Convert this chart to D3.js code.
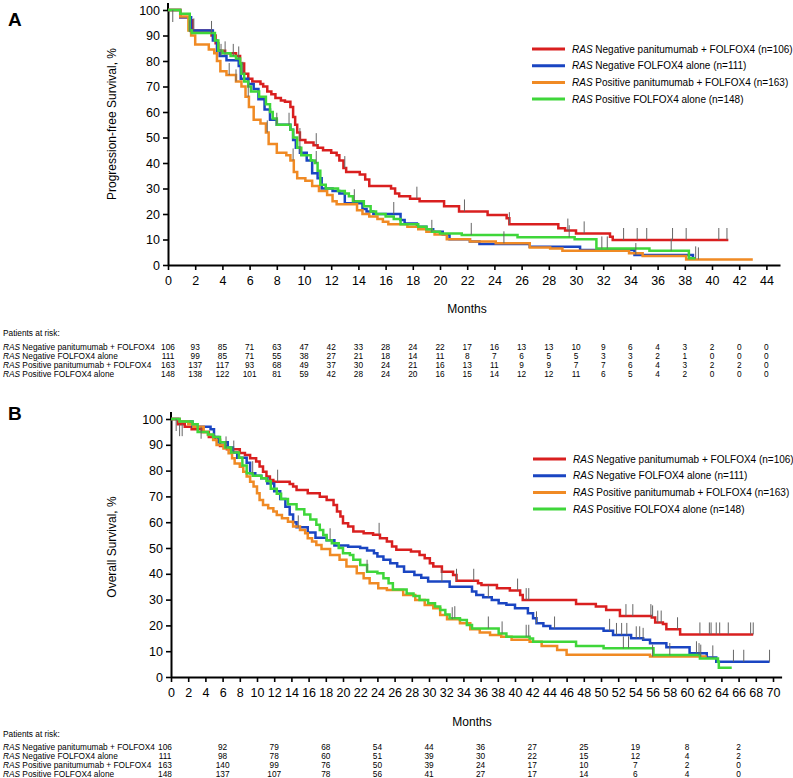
<!DOCTYPE html>
<html><head><meta charset="utf-8">
<script src="https://cdn.jsdelivr.net/npm/d3@7"></script>
<style>
body{margin:0;background:#fff}
svg{display:block}
text{font-family:Arial,"Liberation Sans",sans-serif;fill:#000}
</style>
</head><body>
<svg id="chart" width="793" height="778"></svg>
<script>
// ---------- DATA ----------
const seriesNames = [
  "Negative panitumumab + FOLFOX4 (n=106)",
  "Negative FOLFOX4 alone (n=111)",
  "Positive panitumumab + FOLFOX4 (n=163)",
  "Positive FOLFOX4 alone (n=148)"
];
const tableNames = [
  "Negative panitumumab + FOLFOX4",
  "Negative FOLFOX4 alone",
  "Positive panitumumab + FOLFOX4",
  "Positive FOLFOX4 alone"
];
const seriesColors = ["#d91f1f", "#1a45c2", "#f08a24", "#3fd63a"];

// Panel A: progression-free survival  [month, %] step points
const pfsNegPan = [[0,100],[0.9,97.2],[1.6,96],[1.8,92],[3.2,90],[3.5,87],[3.7,84],[4.2,83],[5.0,82],[5.3,79],[5.6,75],[5.9,73],[6.2,72],[6.8,71],[7.0,70],[7.3,68],[7.6,67],[7.9,65.5],[8.3,64.5],[8.6,64],[9.0,62],[9.2,58],[9.35,55],[9.5,52],[9.7,49],[10.1,48],[10.7,47],[11.0,46],[11.4,45],[12.0,44],[12.4,43],[12.6,41],[12.9,38],[13.1,36.5],[14.1,35.5],[14.5,33.5],[14.8,31],[16.4,30],[16.7,28],[17.0,27],[17.8,26],[18.5,25],[20.3,23],[21.4,21],[23.5,19.6],[24.9,18.3],[25.1,16],[28.7,14.4],[29.2,13.5],[30.0,12.4],[32.5,11.1],[32.7,9.8],[41.2,9.8]];
const pfsNegFol = [[0,100],[0.9,97.2],[1.7,92],[3.3,88],[3.6,84],[3.8,82],[4.3,80.3],[5.2,78],[5.35,73],[5.9,71],[6.3,69],[6.65,65],[7.1,61],[7.5,57],[8.0,55],[9.0,53],[9.2,49],[9.4,46],[9.7,44],[10.2,41],[10.6,36],[11.0,34],[11.3,30],[12.1,29],[12.6,28],[13.0,24.2],[14.3,22],[14.6,21],[15.1,20],[17.1,17.6],[17.4,16.3],[18.3,15],[19.0,14],[19.5,13],[20.2,12],[20.7,10.1],[22.2,9.2],[22.9,8.2],[26.6,7.2],[30.3,5.9],[34.3,3.9],[38.6,2.6],[38.8,2.6]];
const pfsPosPan = [[0,100],[0.9,97.5],[1.5,92],[1.7,90],[2.0,86.5],[3.0,84.5],[3.4,83],[3.6,80],[3.85,76],[4.3,74.5],[5.0,72],[5.4,70],[5.7,66],[5.95,62],[6.3,57],[6.8,55.5],[7.2,52],[7.4,47.5],[8.0,44],[8.7,43],[9.0,41],[9.25,36.5],[9.5,34],[10.1,33],[10.6,31],[11.1,29],[11.7,27.5],[12.1,25],[12.4,23.8],[13.9,21.5],[14.3,20],[14.8,19],[15.4,18],[15.8,17],[16.2,16],[17.6,15],[18.4,14],[19.0,13],[19.6,12],[20.5,10.1],[22.2,9.2],[24.1,8.5],[26.6,6.9],[28.1,6.5],[29.0,5.6],[33.9,4.6],[34.9,3.5],[38.1,2.2],[43.0,2.2]];
const pfsPosFol = [[0,100],[0.9,98.5],[1.6,92],[1.75,91],[3.45,88],[3.7,84],[4.0,83],[4.6,82],[5.0,81],[5.3,79],[5.4,75],[5.6,72],[5.9,70],[6.1,68],[6.7,66],[7.2,63],[7.5,60],[7.7,57.5],[8.0,55],[9.0,53],[9.2,50],[9.5,46],[9.8,43],[10.5,41],[10.8,40],[11.0,37],[11.2,31.5],[11.6,30],[12.5,29],[13.0,28],[13.3,27],[13.6,25],[14.4,23],[14.9,21],[15.3,20],[16.0,19],[16.6,18],[17.1,16],[18.4,15],[19.0,14],[19.4,13],[20.0,12.4],[21.6,11.8],[25.7,10.9],[29.9,10.1],[31.5,6.5],[35.4,5.6],[38.3,2.6],[38.8,2.6]];

const pfsCensNegPan = [0.35,1.6,9.7,10.9,13.0,18.3,21.8,25.1,29.4,30.6,33.5,34.5,35.2,37.1,38.1,40.5,41.1];
const pfsCensNegFol = [1.9,3.9,9.7,16.6,34.4,38.8];
const pfsCensPosPan = [4.5,5.0,5.9,7.3,9.2,24.7,39.0];
const pfsCensPosFol = [3.2,4.2,4.8,5.2,5.5,8.0,8.9,10.9,13.7,19.4,22.3,29.5,31.9,32.3,37.0];

// Panel B: overall survival
const osNegPan = [[0,100],[0.8,98],[1.6,97],[2.4,96],[3.6,95],[4.4,93],[5.1,92],[5.7,89.5],[6.5,88.3],[8.0,86.8],[8.6,86],[9.2,84.8],[9.9,83.5],[10.3,81.6],[10.7,79.6],[11.1,77.7],[11.5,76.4],[11.9,75.7],[13.8,74.8],[14.2,73.8],[14.6,72.5],[15.9,71.2],[17.3,69.9],[18.1,68.6],[18.9,66.7],[19.3,64.1],[19.7,62.2],[20.0,59.6],[20.6,58.3],[21.2,56.4],[22.4,55.7],[23.5,55.1],[24.3,53.8],[25.1,52.5],[25.7,50.6],[26.2,49.3],[27.9,48.6],[28.9,47.3],[29.5,46],[30.1,44.1],[30.5,42.8],[31.5,40.8],[32.8,39.5],[33.2,37.3],[35.7,36.3],[36.1,35.7],[37.9,34.4],[39.4,33.5],[40.6,31.8],[40.9,29.8],[47.1,28.3],[49.4,27.3],[50.6,26],[52.2,23.6],[55.9,23.1],[56.3,21.1],[57.2,20.5],[57.6,18.5],[59.2,16.5],[67.7,16.5]];
const osNegFol = [[0,100],[1.0,99],[2.5,97],[4.6,96],[5.0,93],[5.5,91],[6.6,89],[7.2,87],[7.7,85],[8.8,83],[9.2,79],[9.8,78],[10.5,77],[11.2,75],[12.0,72],[12.7,69],[13.3,66],[13.8,63],[14.2,60],[14.6,58],[15.9,56],[16.8,54],[18.1,53],[19.0,51],[20.6,50.5],[22.0,50],[22.8,49],[23.6,48],[24.0,46.7],[24.7,45.4],[25.5,44.1],[26.3,42.8],[27.1,40.8],[28.3,39.5],[29.1,38.5],[29.9,37],[32.4,35],[35.0,33.1],[35.5,31.8],[36.3,30.9],[37.3,29.8],[38.1,28.6],[39.0,28],[40.0,26.6],[41.5,24.7],[42.1,22.8],[42.5,20.8],[43.3,19.8],[44.1,18.8],[50.3,17.9],[51.4,16.3],[53.5,15],[54.9,14.4],[55.7,13.1],[57.6,11.5],[60.3,9.2],[62.3,7.6],[63.4,5.9],[69.6,5.9]];
const osPosPan = [[0,100],[1.0,99],[2.0,98],[2.6,97],[3.8,95],[4.3,93.8],[4.9,91.9],[5.3,89.9],[6.1,88.6],[6.7,86.7],[7.1,84.8],[7.4,82.8],[8.0,81.5],[8.4,79.6],[8.8,77.7],[9.2,75.7],[9.6,73.8],[10.0,71.2],[10.3,68.6],[10.7,66.7],[11.3,65.4],[11.9,64.1],[12.3,62.8],[12.9,61.5],[13.6,60.2],[14.2,58.3],[15.0,57],[15.6,55.7],[15.9,53.8],[16.4,52.5],[16.9,51.2],[17.5,49.6],[18.5,47.3],[19.6,45.4],[20.4,42.8],[21.6,40.2],[22.4,38.3],[23.1,36.3],[24.1,34.4],[25.1,33.7],[27.0,31.8],[28.4,29.8],[29.5,27.9],[30.5,26.6],[31.3,24],[32.1,22.4],[33.6,20.8],[34.8,18.5],[35.9,17.2],[37.1,16.3],[38.4,15.6],[39.6,14.4],[41.7,13.7],[43.1,12],[44.9,10.5],[46.0,8.6],[55.7,7.9],[62.3,7.9]];
const osPosFol = [[0,100],[1.0,99],[2.5,98],[3.1,95],[4.3,94],[4.9,93],[5.7,91],[6.3,89],[7.0,87],[7.9,85],[8.3,82],[8.8,79],[9.5,78],[10.5,77],[11.1,76],[11.6,73],[12.3,71],[12.8,69],[13.6,67],[14.6,65],[15.5,63],[16.2,61],[16.9,59],[17.3,57],[17.7,55],[18.1,53],[18.7,51.8],[19.5,50],[20.0,48],[20.8,47.3],[21.2,45.4],[22.0,43.4],[22.8,40.8],[24.0,40.2],[24.7,38.3],[25.3,36.3],[25.8,33.9],[27.4,32.4],[28.2,31.4],[28.9,29.8],[29.9,28.6],[30.7,27.3],[31.3,26],[31.9,24.2],[32.4,22.8],[33.6,22.1],[34.4,20.2],[35.0,18.8],[38.1,16.9],[39.0,15.6],[41.7,14.9],[42.1,13.7],[47.1,12],[50.3,11.1],[56.1,8.5],[61.5,7.2],[63.6,5.9],[63.7,3.6],[65.2,3.6]];

const osCensNegPan = [0.6,1.0,1.3,12.4,24.2,33.2,35.2,40.3,41.3,41.6,52.9,53.7,55.8,56.0,56.6,57.0,58.9,61.5,62.6,62.8,63.4,63.8,64.8,67.4,67.7];
const osCensNegFol = [3.5,9.5,14.8,18.5,31.5,36.9,42.5,44.6,51.0,51.8,52.4,53.0,54.1,54.5,54.9,61.1,63.0,65.4,66.6,69.6];
const osCensPosPan = [6.4,32.7,56.0,61.6];
const osCensPosFol = [7.3,22.8,33.0,36.9,38.5,41.3,41.6,52.6,53.2,58.0,61.4];

// Patients at risk
const riskTimesA = [0,2,4,6,8,10,12,14,16,18,20,22,24,26,28,30,32,34,36,38,40,42,44];
const riskA_NegPan = [106,93,85,71,63,47,42,33,28,24,22,17,16,13,13,10,9,6,4,3,2,0,0];
const riskA_NegFol = [111,99,85,71,55,38,27,21,18,14,11,8,7,6,5,5,3,3,2,1,0,0,0];
const riskA_PosPan = [163,137,117,93,68,49,37,30,24,21,16,13,11,9,9,7,7,6,4,3,2,2,0];
const riskA_PosFol = [148,138,122,101,81,59,42,28,24,20,16,15,14,12,12,11,6,5,4,2,0,0,0];
const riskTimesB = [0,6,12,18,24,30,36,42,48,54,60,66];
const riskB_NegPan = [106,92,79,68,54,44,36,27,25,19,8,2];
const riskB_NegFol = [111,98,78,60,51,39,30,22,15,12,4,2];
const riskB_PosPan = [163,140,99,76,50,39,24,17,10,7,2,0];
const riskB_PosFol = [148,137,107,78,56,41,27,17,14,6,4,0];

const ticksA = d3.range(0, 45, 2);
const ticksB = d3.range(0, 71, 2);
const ticksY = d3.range(0, 101, 10);

// ---------- DRAW ----------
const svg = d3.select("#chart");

function drawPanel(cfg) {
  const g = svg.append("g");
  const x = d3.scaleLinear().domain(cfg.xDomain).range(cfg.xRange);
  const y = d3.scaleLinear().domain([0, 100]).range(cfg.yRange);

  g.append("text").attr("x", 8).attr("y", cfg.letterY).attr("font-size", 19)
    .attr("font-weight", "bold").text(cfg.letter);

  const ax = g.append("g").attr("transform", `translate(0,${y(0)})`)
    .call(d3.axisBottom(x).tickValues(cfg.xTicks).tickSize(5).tickSizeOuter(0).tickPadding(6));
  const ay = g.append("g").attr("transform", `translate(${x(0)},0)`)
    .call(d3.axisLeft(y).tickValues(ticksY).tickSize(5).tickSizeOuter(0).tickPadding(3));
  [ax, ay].forEach(a => {
    a.select(".domain").attr("stroke", "#000").attr("stroke-width", 2);
    a.selectAll(".tick line").attr("stroke", "#000").attr("stroke-width", 1.6);
    a.selectAll(".tick text").attr("font-size", 12.5).attr("font-family", "Arial, 'Liberation Sans', sans-serif").attr("fill", "#000");
  });
  g.append("line").attr("x1", x(0)).attr("x2", x(0)).attr("y1", y(100)).attr("y2", y(100) - 7)
    .attr("stroke", "#000").attr("stroke-width", 2);

  g.append("text").attr("transform", `translate(${cfg.yTitleX},${cfg.yTitleY}) rotate(-90)`)
    .attr("text-anchor", "middle").attr("font-size", 12).text(cfg.yTitle);
  g.append("text").attr("x", cfg.monthsX).attr("y", cfg.monthsY).attr("text-anchor", "middle")
    .attr("font-size", 12).text("Months");

  const line = d3.line().x(d => x(d[0])).y(d => y(d[1])).curve(d3.curveStepAfter);
  const stepAt = (data, t) => { let v = 100; for (const d of data) { if (d[0] <= t) v = d[1]; } return v; };
  cfg.curves.forEach((c, i) => {
    g.append("path").datum(c).attr("fill", "none").attr("stroke", seriesColors[i])
      .attr("stroke-width", 2.5).attr("d", line);
  });
  cfg.censors.forEach((cs, i) => {
    cs.forEach(t => {
      const v = stepAt(cfg.curves[i], t);
      const yy = y(v);
      const down = v > 95;
      g.append("line").attr("x1", x(t)).attr("x2", x(t))
        .attr("y1", yy).attr("y2", down ? yy + 12 : yy - 12)
        .attr("stroke", "#666").attr("stroke-width", 1);
    });
  });

  seriesNames.forEach((n, i) => {
    const ly = cfg.legendY + i * 16.7;
    g.append("line").attr("x1", cfg.legendX).attr("x2", cfg.legendX + 33)
      .attr("y1", ly).attr("y2", ly).attr("stroke", seriesColors[i]).attr("stroke-width", 3);
    const t = g.append("text").attr("x", cfg.legendX + 40).attr("y", ly + 3.5).attr("font-size", 10);
    t.append("tspan").attr("font-style", "italic").text("RAS");
    t.append("tspan").text(" " + n);
  });

  g.append("text").attr("x", 3).attr("y", cfg.tableY).attr("font-size", 8.3).text("Patients at risk:");
  cfg.risk.forEach((row, i) => {
    const ry = cfg.tableY + cfg.rowGap0 + i * cfg.rowStep;
    const t = g.append("text").attr("x", 3).attr("y", ry).attr("font-size", 8.3);
    t.append("tspan").attr("font-style", "italic").text("RAS");
    t.append("tspan").text(" " + tableNames[i]);
    row.forEach((v, j) => {
      const tx = x(cfg.riskTimes[j]) + (j === 0 ? cfg.firstColShift : 0);
      g.append("text").attr("x", tx).attr("y", ry).attr("text-anchor", "middle")
        .attr("font-size", 8.3).text(v);
    });
  });
}

drawPanel({
  letter: "A", letterY: 26,
  xDomain: [0, 45], xRange: [168, 780], yRange: [265, 10],
  xTicks: ticksA,
  yTitle: "Progression-free Survival, %", yTitleX: 116, yTitleY: 124,
  monthsX: 467, monthsY: 313,
  curves: [pfsNegPan, pfsNegFol, pfsPosPan, pfsPosFol],
  censors: [pfsCensNegPan, pfsCensNegFol, pfsCensPosPan, pfsCensPosFol],
  legendX: 532, legendY: 49,
  tableY: 336, rowGap0: 13.5, rowStep: 9.2, riskTimes: riskTimesA, firstColShift: 0,
  risk: [riskA_NegPan, riskA_NegFol, riskA_PosPan, riskA_PosFol]
});

drawPanel({
  letter: "B", letterY: 420,
  xDomain: [0, 71], xRange: [171, 171 + 8.6 * 71], yRange: [677, 419],
  xTicks: ticksB,
  yTitle: "Overall Survival, %", yTitleX: 116, yTitleY: 547,
  monthsX: 472, monthsY: 726,
  curves: [osNegPan, osNegFol, osPosPan, osPosFol],
  censors: [osCensNegPan, osCensNegFol, osCensPosPan, osCensPosFol],
  legendX: 533, legendY: 459,
  tableY: 737, rowGap0: 12.5, rowStep: 9.1, riskTimes: riskTimesB, firstColShift: -6,
  risk: [riskB_NegPan, riskB_NegFol, riskB_PosPan, riskB_PosFol]
});
</script>
</body></html>
